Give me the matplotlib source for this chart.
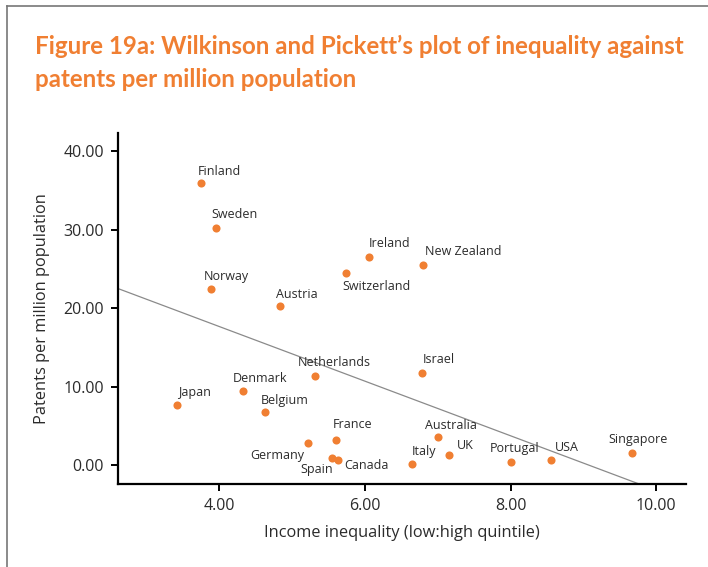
import numpy as np
import matplotlib
matplotlib.use("Agg")
import matplotlib.pyplot as plt
from matplotlib.lines import Line2D

# datos
paises = ['Finland', 'Sweden', 'Norway', 'Austria', 'Switzerland', 'Ireland',
          'New Zealand', 'Israel', 'Netherlands', 'Denmark', 'Japan', 'Belgium',
          'France', 'Germany', 'Spain', 'Canada', 'Italy', 'Australia', 'UK',
          'Portugal', 'USA', 'Singapore']
desigualdad = [3.75, 3.96, 3.88, 4.84, 5.74, 6.06, 6.80, 6.79, 5.32, 4.32, 3.42,
               4.63, 5.61, 5.22, 5.55, 5.63, 6.65, 7.00, 7.16, 8.00, 8.55, 9.67]
patentes = [35.9, 30.2, 22.4, 20.3, 24.5, 26.5, 25.5, 11.7, 11.3, 9.4, 7.6,
            6.75, 3.2, 2.8, 0.9, 0.6, 0.1, 3.6, 1.3, 0.4, 0.6, 1.5]

# desplazamiento de cada etiqueta (pixeles)
offsets = {
    'Finland': (18, 12), 'Sweden': (18, 13), 'Norway': (16, 13),
    'Austria': (16, 11), 'Switzerland': (31, -14), 'Ireland': (20, 14),
    'New Zealand': (40, 13), 'Israel': (16, 14), 'Netherlands': (19, 14),
    'Denmark': (18, 13), 'Japan': (17, 13), 'Belgium': (20, 12),
    'France': (16, 15), 'Germany': (-31, -12), 'Spain': (-15, -12),
    'Canada': (28, -5), 'Italy': (12, 13), 'Australia': (13, 11),
    'UK': (16, 9), 'Portugal': (4, 13), 'USA': (16, 13), 'Singapore': (6, 14),
}

naranja = '#F07F32'
gris_txt = '#2b2b2b'

fig = plt.figure(figsize=(7.08, 5.67), dpi=100)

# marco gris del recuadro
fig.add_artist(Line2D([0.0099, 0.0099], [0.0, 0.989], color='#777777', lw=1.2))
fig.add_artist(Line2D([0.0099, 1.0], [0.989, 0.989], color='#777777', lw=1.2))

fig.text(0.049, 0.905, "Figure 19a: Wilkinson and Pickett\u2019s plot of inequality against",
         color=naranja, fontsize=17.4, fontweight='bold', family='Lato', va='baseline')
fig.text(0.049, 0.846, "patents per million population",
         color=naranja, fontsize=17.4, fontweight='bold', family='Lato', va='baseline')

ax = fig.add_axes([0.1667, 0.1464, 0.8023, 0.619])

ax.scatter(desigualdad, patentes, s=34, color=naranja, zorder=3, linewidths=0)

# recta de regresion
m, b = np.polyfit(desigualdad, patentes, 1)
xs = np.array([2.0, 11.0])
ax.plot(xs, m * xs + b, color='#8a8a8a', lw=0.9, zorder=2)

for p, x, y in zip(paises, desigualdad, patentes):
    dx, dy = offsets[p]
    ax.annotate(p, (x, y), xytext=(dx, dy), textcoords='offset pixels',
                ha='center', va='center', fontsize=9, color=gris_txt,
                family='Open Sans')

ax.set_xlim(2.61, 10.41)
ax.set_ylim(-2.42, 42.3)
ax.set_xticks([4, 6, 8, 10])
ax.set_yticks([0, 10, 20, 30, 40])
ax.set_xticklabels(['4.00', '6.00', '8.00', '10.00'])
ax.set_yticklabels(['0.00', '10.00', '20.00', '30.00', '40.00'])

for s in ['top', 'right']:
    ax.spines[s].set_visible(False)
for s in ['left', 'bottom']:
    ax.spines[s].set_linewidth(1.6)
ax.tick_params(width=1.4, length=5, labelsize=11.5, labelcolor=gris_txt, pad=5)
for lbl in ax.get_xticklabels() + ax.get_yticklabels():
    lbl.set_family('Open Sans')

ax.set_xlabel('Income inequality (low:high quintile)', fontsize=11.8,
              color=gris_txt, family='Open Sans', labelpad=8)
ax.set_ylabel('Patents per million population', fontsize=11.8,
              color=gris_txt, family='Open Sans', labelpad=10)

fig.savefig('out.png', dpi=100)
